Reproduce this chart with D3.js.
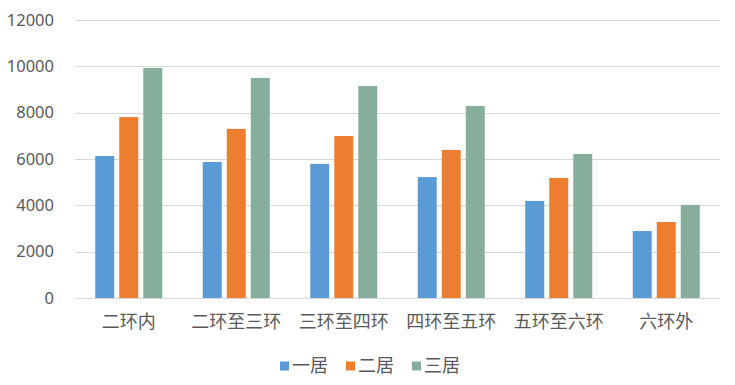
<!DOCTYPE html>
<html>
<head>
<meta charset="utf-8">
<script src="https://cdn.jsdelivr.net/npm/d3@7"></script>
<style>
  body { margin: 0; background: #fff; }
  text { font-family: "Noto Sans CJK SC", "Noto Sans", sans-serif; fill: #595959; }
  .num { font-family: "Noto Sans", sans-serif; }
</style>
</head>
<body>
<svg id="chart"></svg>
<script>
  const categories = ["二环内", "二环至三环", "三环至四环", "四环至五环", "五环至六环", "六环外"];
  const seriesNames = ["一居", "二居", "三居"];
  const oneRoom = [6130, 5870, 5790, 5220, 4190, 2890];
  const twoRoom = [7810, 7300, 6990, 6390, 5180, 3280];
  const threeRoom = [9930, 9500, 9150, 8290, 6220, 4020];
  const yTicks = [0, 2000, 4000, 6000, 8000, 10000, 12000];
  const colors = ["#5b9bd5", "#ed7d31", "#86ae9a"];

  const margin = {top: 20, right: 15, bottom: 87, left: 75},
        width = 735 - margin.left - margin.right,
        height = 385 - margin.top - margin.bottom;

  const series = [oneRoom, twoRoom, threeRoom];
  const data = categories.map((c, i) => ({
    cat: c,
    values: series.map((s, j) => ({ key: seriesNames[j], value: s[i] }))
  }));

  let svg = d3.select("#chart")
              .attr("width", 735)
              .attr("height", 385);

  let chart = svg.append("g")
                 .attr("transform", "translate(" + margin.left + "," + margin.top + ")");

  let x = d3.scaleBand()
            .domain(categories)
            .range([0, width]);

  // bars inside one category group
  let x1 = d3.scaleBand()
             .domain(seriesNames)
             .range([0, 67])
             .paddingInner(0.21);

  let y = d3.scaleLinear()
            .domain([0, 12000])
            .range([height, 0]);

  // Gridlines
  chart.append("g")
       .selectAll("line")
       .data(yTicks)
       .enter()
       .append("line")
       .attr("x1", 0)
       .attr("x2", width)
       .attr("y1", (d) => Math.round(y(d)) + 0.5)
       .attr("y2", (d) => Math.round(y(d)) + 0.5)
       .attr("stroke", "#d9d9d9")
       .attr("stroke-width", 1);

  // y-Axis labels
  chart.append("g")
       .selectAll("text")
       .data(yTicks)
       .enter()
       .append("text")
       .attr("class", "num")
       .attr("x", -21)
       .attr("y", (d) => y(d))
       .attr("dy", "0.35em")
       .attr("text-anchor", "end")
       .attr("font-size", 16.5)
       .text((d) => d);

  // Bars
  let groups = chart.selectAll(".group")
                    .data(data)
                    .enter()
                    .append("g")
                    .attr("class", "group")
                    .attr("transform", (d) => "translate(" + (x(d.cat) + x.bandwidth() / 2 - 33.5) + ",0)");

  groups.selectAll("rect")
        .data((d) => d.values)
        .enter()
        .append("rect")
        .attr("x", (d) => x1(d.key))
        .attr("width", x1.bandwidth())
        .attr("y", (d) => y(d.value))
        .attr("height", (d) => height - y(d.value))
        .attr("fill", (d, i) => colors[i]);

  // Category labels
  chart.append("g")
       .selectAll("text")
       .data(categories)
       .enter()
       .append("text")
       .attr("x", (d) => x(d) + x.bandwidth() / 2)
       .attr("y", height + 24)
       .attr("dy", "0.35em")
       .attr("text-anchor", "middle")
       .attr("font-size", 18)
       .text((d) => d);

  // Legend
  let legend = svg.append("g")
                  .attr("transform", "translate(280,366)");

  let items = legend.selectAll("g")
                    .data(seriesNames)
                    .enter()
                    .append("g")
                    .attr("transform", (d, i) => "translate(" + (i * 66) + ",0)");

  items.append("rect")
       .attr("x", 0)
       .attr("y", -4.5)
       .attr("width", 9)
       .attr("height", 9)
       .attr("fill", (d, i) => colors[i]);

  items.append("text")
       .attr("x", 12)
       .attr("y", 0)
       .attr("dy", "0.35em")
       .attr("font-size", 18)
       .text((d) => d);
</script>
</body>
</html>
